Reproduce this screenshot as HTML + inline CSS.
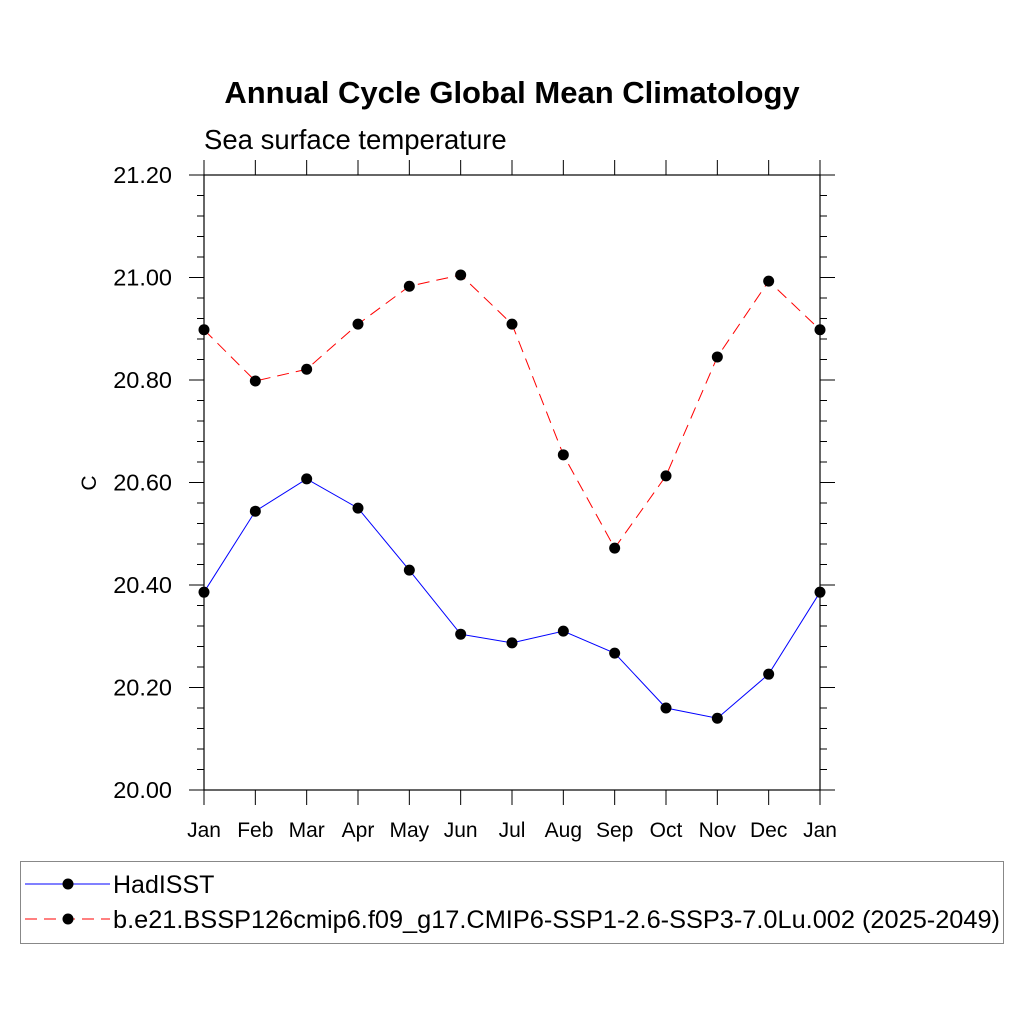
<!DOCTYPE html>
<html><head><meta charset="utf-8"><style>
body{margin:0;background:#fff;}
svg{display:block;font-family:"Liberation Sans",sans-serif;}
</style></head><body>
<svg id="chart" width="1024" height="1024" xmlns="http://www.w3.org/2000/svg">
<rect width="1024" height="1024" fill="#fff"/>
<text x="512" y="103" text-anchor="middle" font-size="31" font-weight="bold">Annual Cycle Global Mean Climatology</text>
<text x="204" y="149" font-size="27.5">Sea surface temperature</text>
<text transform="translate(96,483) rotate(-90)" text-anchor="middle" font-size="21">C</text>
<g id="axes"></g>
<g id="series"></g>
<g>
<rect x="20.5" y="861.5" width="983" height="82" fill="none" stroke="#888" stroke-width="1"/>
<line x1="25" y1="884" x2="110" y2="884" stroke="#00f" stroke-width="1"/>
<circle cx="68" cy="884" r="5.5" fill="#000"/>
<text x="113" y="893" font-size="25">HadISST</text>
<line x1="25" y1="919" x2="110" y2="919" stroke="#f00" stroke-width="1" stroke-dasharray="12,7"/>
<circle cx="68" cy="919" r="5.5" fill="#000"/>
<text x="113" y="928" font-size="25" textLength="887" lengthAdjust="spacingAndGlyphs">b.e21.BSSP126cmip6.f09_g17.CMIP6-SSP1-2.6-SSP3-7.0Lu.002 (2025-2049)</text>
</g>
</svg>
<script>
const months = ["Jan","Feb","Mar","Apr","May","Jun","Jul","Aug","Sep","Oct","Nov","Dec","Jan"];
const hadisst = [20.386,20.544,20.607,20.550,20.429,20.304,20.287,20.310,20.267,20.160,20.140,20.226,20.386];
const model = [20.898,20.798,20.821,20.909,20.983,21.005,20.909,20.654,20.472,20.613,20.845,20.993,20.898];
const yTicks = [20.00,20.20,20.40,20.60,20.80,21.00,21.20];
const yTickLabels = ["20.00","20.20","20.40","20.60","20.80","21.00","21.20"];

const NS="http://www.w3.org/2000/svg";
const L=204,R=820,T=175,B=790,yMin=20,yMax=21.2;
const xS=i=>L+(R-L)*i/(months.length-1);
const yS=v=>B-(v-yMin)/(yMax-yMin)*(B-T);
const axes=document.getElementById('axes'),ser=document.getElementById('series');
function mk(tag,at,parent){const e=document.createElementNS(NS,tag);for(const k in at)e.setAttribute(k,at[k]);parent.appendChild(e);return e;}
const st={stroke:"#000","stroke-width":1};
const fr=mk('rect',{x:L,y:T,width:R-L,height:B-T,fill:"none",stroke:"#000","stroke-width":1.2},axes);


for(let i=0;i<yTicks.length;i++){
  const y=yS(yTicks[i]);
  mk('line',{x1:L-15,y1:y,x2:L,y2:y,...st},axes);
  mk('line',{x1:R,y1:y,x2:R+15,y2:y,...st},axes);
  const t=mk('text',{x:172,y:y+8,"text-anchor":"end","font-size":23.5},axes);
  t.textContent=yTickLabels[i];
  
  
}
for(let v=yMin;v<yMax-1e-6;v+=0.2){
  for(let k=1;k<5;k++){const y=yS(v+0.04*k);
    mk('line',{x1:L-7,y1:y,x2:L,y2:y,...st},axes);
    mk('line',{x1:R,y1:y,x2:R+7,y2:y,...st},axes);}
}
for(let i=0;i<months.length;i++){
  const x=xS(i);
  mk('line',{x1:x,y1:B,x2:x,y2:B+15,...st},axes);
  mk('line',{x1:x,y1:T-15,x2:x,y2:T,...st},axes);
  const t=mk('text',{x:x,y:B+47,"text-anchor":"middle","font-size":21},axes);
  t.textContent=months[i];
  
  
}
function series(vals,color,dash,name){
  const p=mk('polyline',{points:vals.map((v,i)=>xS(i)+","+yS(v)).join(" "),fill:"none",stroke:color,"stroke-width":1,"stroke-dasharray":dash},ser);
  
  
  vals.forEach((v,i)=>{const c=mk('circle',{cx:xS(i),cy:yS(v),r:5.5,fill:"#000"},ser);
    
    });
}
series(hadisst,"#00f","none","hadisst");
series(model,"#f00","12,7","model");
</script>
</body></html>
